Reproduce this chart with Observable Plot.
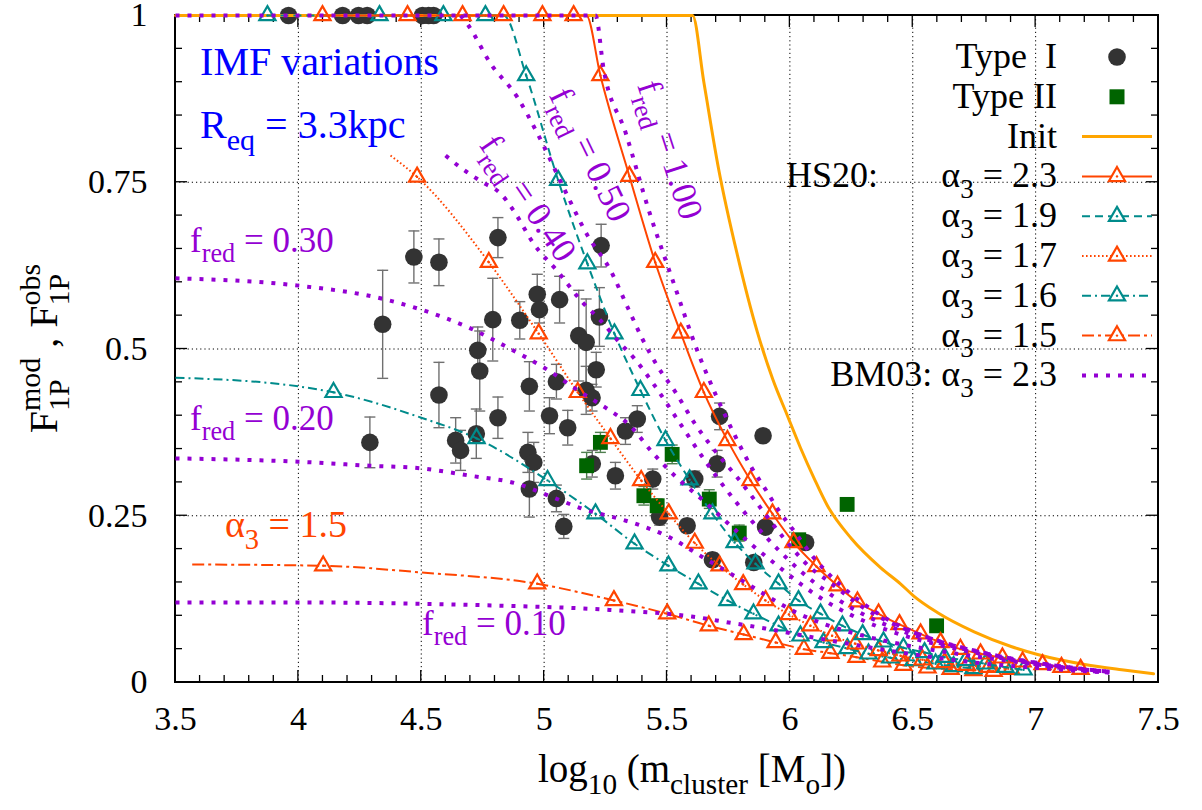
<!DOCTYPE html>
<html><head><meta charset="utf-8">
<script src="https://cdn.jsdelivr.net/npm/d3@7"></script>
<script src="https://cdn.jsdelivr.net/npm/@observablehq/plot@0.6"></script>
<style>
html,body{margin:0;padding:0;background:#fff;}
#chart svg text{white-space:pre;}
</style></head><body><div id="chart"></div>
<script>
// ---------------- data ----------------
const xTicks = [3.5, 4, 4.5, 5, 5.5, 6, 6.5, 7, 7.5];
const yTicks = [0, 0.25, 0.5, 0.75, 1];

// Type I clusters: [log10 m, F1P, error]
const typeI = [
 [3.96,1,0],[4.18,1,0],[4.245,1,0],[4.28,1,0],[4.505,1,0],[4.53,1,0],[4.55,1,0],
 [4.470,0.638,0.039],[4.572,0.630,0.035],[4.812,0.667,0.030],[5.232,0.655,0.032],
 [4.343,0.537,0.081],[4.791,0.544,0.062],[4.901,0.543,0.028],[4.972,0.582,0.030],
 [4.981,0.559,0.020],[5.063,0.574,0.035],[5.225,0.548,0.044],[5.141,0.520,0.068],
 [5.171,0.510,0.065],[4.730,0.498,0.035],[4.738,0.467,0.060],[4.572,0.431,0.049],
 [4.940,0.444,0.037],[5.050,0.451,0.026],[5.212,0.469,0.026],[5.171,0.438,0.036],
 [5.195,0.427,0.020],[4.812,0.397,0.031],[5.022,0.400,0.027],[5.096,0.382,0.026],
 [4.724,0.373,0.037],[4.640,0.363,0.034],[4.660,0.348,0.030],[5.379,0.395,0.020],
 [5.331,0.377,0.020],[4.291,0.360,0.038],[4.934,0.345,0.030],[4.958,0.330,0.030],
 [4.940,0.290,0.042],[5.050,0.276,0.020],[5.080,0.234,0.018],[5.196,0.328,0.020],
 [5.290,0.310,0.020],[5.442,0.305,0.015],[5.470,0.248,0.012],[5.582,0.235,0.010],
 [5.613,0.305,0.012],[5.685,0.184,0.010],[5.704,0.328,0.020],[5.714,0.399,0.020],
 [5.891,0.370,0],[5.901,0.233,0],[5.853,0.180,0],[6.064,0.210,0]
];
// Type II clusters: [log10 m, F1P, error]
const typeII = [
 [5.229,0.360,0.015],[5.173,0.325,0.020],[5.406,0.280,0.014],[5.460,0.265,0.010],
 [5.521,0.342,0.014],[5.672,0.275,0.014],[5.794,0.224,0.012],[6.036,0.214,0],
 [6.233,0.267,0],[6.597,0.085,0]
];
// Init
const init = [
 [3.5,1],[5.604,1],[5.65,0.90],[5.71,0.77],[5.787,0.64],[5.868,0.525],[5.93,0.455],
 [5.99,0.400],[6.043,0.352],[6.10,0.305],[6.153,0.265],[6.25,0.216],[6.37,0.172],[6.45,0.148],
 [6.503,0.130],[6.6,0.105],[6.75,0.076],[6.9,0.054],[7.008,0.042],[7.2,0.027],[7.35,0.019],[7.48,0.013]
];
// HS20 alpha3 = 2.3 (marker points) + joins without markers
const hs23 = [
 [4.098,1],[4.444,1],[4.668,1],[4.835,1],[4.993,1],[5.120,1],
 [5.229,0.910],[5.347,0.759],[5.452,0.630],[5.556,0.524],[5.650,0.435],[5.746,0.363],
 [5.840,0.303],[5.929,0.253],[6.015,0.210],[6.108,0.174],[6.194,0.145],[6.275,0.121],
 [6.361,0.103],[6.446,0.087],[6.532,0.073],[6.613,0.060],[6.694,0.050],[6.776,0.043],
 [6.865,0.037],[6.947,0.031],[7.028,0.027],[7.105,0.023],[7.183,0.020]
];
const hs23Join = [[5.172,1]];
// alpha3 = 1.9
const hs19 = [
 [3.874,1],[4.330,1],[4.590,1],[4.761,1],
 [4.927,0.910],[5.057,0.753],[5.176,0.628],[5.286,0.523],[5.392,0.438],[5.494,0.363],
 [5.592,0.304],[5.685,0.253],[5.775,0.210],[5.860,0.178],[5.954,0.148],[6.035,0.123],
 [6.125,0.103],[6.214,0.085],[6.296,0.072],[6.381,0.061],[6.462,0.052],[6.548,0.045],
 [6.629,0.038],[6.715,0.033],[6.796,0.028],[6.877,0.023],[6.951,0.019]
];
const hs19Join = [[4.835,1]];
// alpha3 = 1.7
const hs17 = [
 [4.483,0.758],[4.775,0.630],[4.978,0.523],[5.137,0.435],[5.270,0.366],[5.395,0.303],
 [5.507,0.253],[5.613,0.209],[5.714,0.175],[5.810,0.147],[5.901,0.123],[5.996,0.102],
 [6.084,0.085],[6.172,0.070],[6.267,0.058],[6.361,0.048],[6.45,0.040],[6.54,0.034],
 [6.63,0.030],[6.72,0.026],[6.81,0.023],[6.90,0.020]
];
const hs17Join = [[4.375,0.790]];
// alpha3 = 1.6
const hs16 = [
 [4.143,0.435],[4.725,0.366],[5.014,0.303],[5.209,0.253],[5.368,0.208],[5.506,0.175],
 [5.628,0.148],[5.746,0.123],[5.852,0.103],[5.954,0.085],[6.043,0.070],[6.137,0.060],
 [6.234,0.051],[6.320,0.043],[6.409,0.037],[6.503,0.033],[6.593,0.028],[6.666,0.024],[6.747,0.021]
];
const hs16Join = [[3.5,0.457],[4.0,0.444],[4.5,0.397]];
// alpha3 = 1.5
const hs15 = [
 [4.101,0.175],[4.972,0.148],[5.284,0.123],[5.501,0.103],[5.670,0.085],[5.812,0.072],
 [5.942,0.060],[6.057,0.050],[6.165,0.044],[6.271,0.038],[6.376,0.031],[6.462,0.026],
 [6.560,0.022],[6.654,0.020],[6.747,0.018],[6.829,0.017]
];
const hs15Join = [[3.568,0.177],[4.5,0.165]];
// BM03 alpha3 = 2.3, f_red curves
const bm10 = [[3.5,0.120],[4.0,0.120],[4.5,0.118],[4.84,0.115],[5.16,0.111],[5.3,0.108],[5.5,0.103],[5.6,0.099],[5.75,0.090],[5.9,0.081],[6.03,0.072],[6.24,0.058],[6.45,0.045],[6.6,0.037],[6.8,0.028],[7.0,0.022],[7.15,0.018],[7.3,0.015]];
const bm20 = [[3.5,0.336],[4.0,0.331],[4.29,0.325],[4.5,0.321],[4.70,0.310],[4.89,0.298],[5.026,0.279],[5.16,0.260],[5.30,0.246],[5.38,0.237],[5.514,0.217],[5.649,0.187],[5.787,0.157],[5.893,0.133],[6.031,0.104],[6.137,0.088],[6.3,0.070],[6.5,0.054],[6.7,0.042],[6.9,0.032],[7.1,0.023],[7.3,0.016]];
const bm30 = [[3.5,0.606],[4.0,0.595],[4.334,0.576],[4.5,0.559],[4.70,0.531],[4.863,0.500],[5.0,0.472],[5.15,0.435],[5.25,0.412],[5.35,0.385],[5.44,0.345],[5.54,0.307],[5.65,0.272],[5.75,0.238],[5.85,0.205],[5.95,0.175],[6.05,0.146],[6.15,0.121],[6.25,0.101],[6.35,0.085],[6.45,0.072],[6.6,0.057],[6.75,0.045],[6.9,0.034],[7.05,0.026],[7.2,0.019],[7.3,0.016]];
const bm40 = [[4.599,0.790],[4.660,0.772],[4.749,0.750],[4.823,0.733],[4.875,0.708],[4.957,0.658],[5.058,0.615],[5.156,0.570],[5.229,0.543],[5.311,0.508],[5.364,0.487],[5.45,0.445],[5.55,0.390],[5.65,0.335],[5.75,0.285],[5.85,0.240],[5.95,0.200],[6.05,0.165],[6.15,0.136],[6.25,0.112],[6.35,0.093],[6.45,0.078],[6.6,0.060],[6.75,0.047],[6.9,0.036],[7.05,0.027],[7.2,0.020],[7.3,0.016]];
const bm50 = [[4.66,1.0],[4.692,0.985],[4.782,0.928],[4.892,0.877],[4.973,0.823],[5.079,0.742],[5.177,0.670],[5.270,0.618],[5.343,0.560],[5.40,0.515],[5.46,0.475],[5.535,0.435],[5.61,0.390],[5.70,0.345],[5.787,0.307],[5.868,0.268],[5.974,0.217],[6.084,0.172],[6.153,0.153],[6.3,0.112],[6.45,0.083],[6.6,0.063],[6.75,0.048],[6.9,0.036],[7.05,0.027],[7.2,0.020],[7.3,0.016]];
const bm100 = [[3.5,1],[5.209,1],[5.242,0.920],[5.331,0.825],[5.425,0.709],[5.526,0.600],[5.628,0.493],[5.70,0.430],[5.77,0.375],[5.84,0.325],[5.90,0.290],[5.96,0.255],[6.015,0.228],[6.10,0.186],[6.2,0.148],[6.3,0.118],[6.4,0.094],[6.52,0.073],[6.65,0.057],[6.79,0.044],[6.93,0.032],[7.06,0.024],[7.2,0.018],[7.3,0.015]];

// text annotations (anchor in data coordinates)
const notes = [
 {segs:[{t:"IMF variations"}], x:3.602, y:0.910, color:"#0000ff", fs:40, rot:0},
 {segs:[{t:"R"},{t:"eq",sub:1},{t:" = 3.3kpc"}], x:3.602, y:0.816, color:"#0000ff", fs:40, rot:0},
 {segs:[{t:"f"},{t:"red",sub:1},{t:" = 0.30"}], x:3.561, y:0.645, color:"#9400d3", fs:35, rot:0},
 {segs:[{t:"f"},{t:"red",sub:1},{t:" = 0.20"}], x:3.561, y:0.378, color:"#9400d3", fs:35, rot:0},
 {segs:[{t:"\u03b1"},{t:"3",sub:1},{t:" = 1.5"}], x:3.703, y:0.217, color:"#ff4500", fs:38, rot:0},
 {segs:[{t:"f"},{t:"red",sub:1},{t:" = 0.10"}], x:4.505, y:0.0705, color:"#9400d3", fs:35, rot:0},
 {segs:[{t:"f"},{t:"red",sub:1},{t:" = 0.40"}], x:4.735, y:0.805, color:"#9400d3", fs:35, rot:56},
 {segs:[{t:"f"},{t:"red",sub:1},{t:" = 0.50"}], x:5.020, y:0.880, color:"#9400d3", fs:35, rot:64},
 {segs:[{t:"f"},{t:"red",sub:1},{t:" = 1.00"}], x:5.380, y:0.895, color:"#9400d3", fs:35, rot:72}
];

// ---------------- styling ----------------
const FONT = "'Liberation Serif','Times New Roman',serif";
const C = {orange:"#ffa500", red:"#ff4500", teal:"#008b8b", violet:"#9400d3", dot:"#333333", green:"#006400", err:"#707070", errG:"#4f7f4f"};
const P = d => d[0], Q = d => d[1];
const lineOf = (pts, extra) => [...pts, ...extra].sort((a, b) => a[0] - b[0]);
const cap = {draw(ctx, size) { const w = Math.sqrt(size / Math.PI); ctx.moveTo(-w, 0); ctx.lineTo(w, 0); }};
const TRI_R = 6;
const DASH = {a19: "8,5", a17: "1.6,2.4", a16: "9,4,2,4", a15: "12,4,3,4", bm: "4,8"};

function hsMarks(pts, extra, color, dash) {
  return [
    Plot.line(lineOf(pts, extra), {x: P, y: Q, stroke: color, strokeWidth: 2, strokeDasharray: dash, strokeLinecap: "butt", curve: "monotone-x"}),
    Plot.dot(pts, {x: P, y: Q, symbol: "triangle", r: TRI_R, stroke: color, strokeWidth: 2.2, fill: "none"}),
    Plot.dot(pts, {x: P, y: Q, r: 1.2, fill: color})
  ];
}
function bmLine(pts) {
  return Plot.line(pts, {x: P, y: Q, stroke: C.violet, strokeWidth: 4, strokeDasharray: DASH.bm, strokeLinecap: "butt", curve: "monotone-x"});
}
function errMarks(data, color) {
  const has = d => d[2] > 0;
  return [
    Plot.ruleX(data, {filter: has, x: P, y1: d => d[1] - d[2], y2: d => d[1] + d[2], stroke: color, strokeWidth: 1.4}),
    Plot.dot(data, {filter: has, x: P, y: d => d[1] - d[2], symbol: cap, r: 5.5, stroke: color, strokeWidth: 1.4, fill: "none"}),
    Plot.dot(data, {filter: has, x: P, y: d => d[1] + d[2], symbol: cap, r: 5.5, stroke: color, strokeWidth: 1.4, fill: "none"})
  ];
}

const chart = Plot.plot({
  width: 1202, height: 810,
  marginLeft: 175, marginRight: 44, marginTop: 15, marginBottom: 128,
  style: {fontFamily: FONT, fontSize: "34px", background: "#fff", color: "#000"},
  x: {domain: [3.5, 7.5]},
  y: {domain: [0, 1]},
  marks: [
    Plot.ruleX(xTicks.slice(1, -1), {stroke: "#000", strokeWidth: 1, strokeDasharray: "1.2,3", ariaLabel: "grid-x"}),
    Plot.ruleY(yTicks.slice(1, -1), {stroke: "#000", strokeWidth: 1, strokeDasharray: "1.2,3", ariaLabel: "grid-y"}),
    Plot.axisX(xTicks, {tickSize: 0, tickPadding: 23, fontSize: 34, tickFormat: d => String(d), label: null}),
    Plot.axisY(yTicks, {tickSize: 0, tickPadding: 28, fontSize: 34, tickFormat: d => String(d), label: null}),
    ...errMarks(typeI, C.err),
    Plot.dot(typeI, {x: P, y: Q, r: 8.8, fill: C.dot}),
    ...errMarks(typeII, C.errG),
    Plot.dot(typeII, {x: P, y: Q, symbol: "square", r: 8.4, fill: C.green}),
    Plot.line(init, {x: P, y: Q, stroke: C.orange, strokeWidth: 3, curve: "monotone-x"}),
    ...hsMarks(hs15, hs15Join, C.red, DASH.a15),
    ...hsMarks(hs16, hs16Join, C.teal, DASH.a16),
    ...hsMarks(hs17, hs17Join, C.red, DASH.a17),
    ...hsMarks(hs19, hs19Join, C.teal, DASH.a19),
    ...hsMarks(hs23, hs23Join, C.red, null),
    bmLine(bm10), bmLine(bm20), bmLine(bm30), bmLine(bm40), bmLine(bm50), bmLine(bm100)
  ]
});
document.getElementById("chart").append(chart);

// ---------------- decorations ----------------
const NS = "http://www.w3.org/2000/svg";
const sx = chart.scale("x"), sy = chart.scale("y");
const X = v => sx.apply(v), Y = v => sy.apply(v);
const L = X(3.5), R = X(7.5), T = Y(1), B = Y(0);
const svgSel = d3.select(chart);

// legend background (hides grid) + frame + ticks, inserted below the data marks
const gridY = chart.querySelector('g[aria-label="grid-y"]');
const under = document.createElementNS(NS, "g");
chart.insertBefore(under, gridY ? gridY.nextSibling : chart.firstChild);
const u = d3.select(under);
u.append("rect").attr("x", R - 510).attr("y", T + 21).attr("width", 509).attr("height", 359).attr("fill", "#fff");
u.append("rect").attr("x", L).attr("y", T).attr("width", R - L).attr("height", B - T)
  .attr("fill", "none").attr("stroke", "#000").attr("stroke-width", 2);
const tk = u.append("g").attr("stroke", "#000").attr("stroke-width", 1.3);
for (let i = 0; i <= 40; i++) {
  const v = X(3.5 + i * 0.1), len = i % 5 === 0 ? 12 : 7;
  tk.append("line").attr("x1", v).attr("x2", v).attr("y1", B).attr("y2", B - len);
  tk.append("line").attr("x1", v).attr("x2", v).attr("y1", T).attr("y2", T + len);
}
for (let i = 0; i <= 20; i++) {
  const v = Y(i * 0.05), len = i % 5 === 0 ? 12 : 7;
  tk.append("line").attr("y1", v).attr("y2", v).attr("x1", L).attr("x2", L + len);
  tk.append("line").attr("y1", v).attr("y2", v).attr("x1", R).attr("x2", R - len);
}

function rich(sel, segs, fs, color, anchor) {
  const t = sel.append("text").attr("font-size", fs).attr("fill", color)
    .attr("font-family", FONT).attr("text-anchor", anchor || "start").attr("xml:space", "preserve");
  let cur = 0, lastW = 0;
  for (const s of segs) {
    const off = s.sub ? 0.3 * fs : s.sup ? -0.42 * fs : 0;
    const ts = t.append("tspan").text(s.t).attr("dy", off - cur);
    if (s.sub || s.sup) ts.attr("font-size", 0.75 * fs);
    if (s.stack) ts.attr("dx", -lastW);
    cur = off;
    lastW = ts.node().getComputedTextLength();
  }
  return t;
}

const overlay = svgSel.append("g");
for (const n of notes) {
  rich(overlay, n.segs, n.fs, n.color, "start")
    .attr("transform", `translate(${X(n.x)},${Y(n.y)}) rotate(${n.rot})`);
}

// axis titles
rich(overlay, [{t:"log"},{t:"10",sub:1},{t:" (m"},{t:"cluster",sub:1},{t:" [M"},{t:"o",sub:1},{t:"])"}], 39, "#000", "middle")
  .attr("transform", `translate(${L + 517},${B + 100})`);
rich(overlay, [{t:"F"},{t:"1P",sub:1},{t:"mod",sup:1,stack:1},{t:" , F"},{t:"1P",sub:1},{t:"obs",sup:1,stack:1}], 40, "#000", "middle")
  .attr("transform", `translate(${L - 118},${(T + B) / 2}) rotate(-90)`);

// legend
const LX = R - 101, S1 = R - 76, S2 = R - 6, MX = R - 41;
const rowY = i => T + 42 + i * 39.8;
const legend = [
  {segs:[{t:"Type\u00a0 I"}], kind:"circle"},
  {segs:[{t:"Type II"}], kind:"square"},
  {segs:[{t:"Init"}], kind:"line", color:C.orange, w:3},
  {segs:[{t:"\u03b1"},{t:"3",sub:1},{t:" = 2.3"}], kind:"hs", color:C.red},
  {segs:[{t:"\u03b1"},{t:"3",sub:1},{t:" = 1.9"}], kind:"hs", color:C.teal, dash:DASH.a19},
  {segs:[{t:"\u03b1"},{t:"3",sub:1},{t:" = 1.7"}], kind:"hs", color:C.red, dash:DASH.a17},
  {segs:[{t:"\u03b1"},{t:"3",sub:1},{t:" = 1.6"}], kind:"hs", color:C.teal, dash:DASH.a16},
  {segs:[{t:"\u03b1"},{t:"3",sub:1},{t:" = 1.5"}], kind:"hs", color:C.red, dash:DASH.a15},
  {segs:[{t:"BM03: \u03b1"},{t:"3",sub:1},{t:" = 2.3"}], kind:"line", color:C.violet, w:4, dash:DASH.bm}
];
const lg = overlay.append("g");
legend.forEach((it, i) => {
  const y = rowY(i);
  rich(lg, it.segs, 36, "#000", "end").attr("transform", `translate(${LX},${y + 11})`);
  if (it.kind === "circle") lg.append("circle").attr("cx", MX).attr("cy", y).attr("r", 8.8).attr("fill", C.dot);
  if (it.kind === "square") lg.append("rect").attr("x", MX - 7.5).attr("y", y - 7.5).attr("width", 15).attr("height", 15).attr("fill", C.green);
  if (it.kind === "line" || it.kind === "hs") {
    lg.append("line").attr("x1", S1).attr("x2", S2).attr("y1", y).attr("y2", y)
      .attr("stroke", it.color).attr("stroke-width", it.w || 2).attr("stroke-dasharray", it.dash || null);
  }
  if (it.kind === "hs") {
    lg.append("path").attr("d", d3.symbol(d3.symbolTriangle, Math.PI * TRI_R * TRI_R)())
      .attr("transform", `translate(${MX},${y})`).attr("fill", "#fff").attr("stroke", it.color).attr("stroke-width", 2.2);
    lg.append("circle").attr("cx", MX).attr("cy", y).attr("r", 1.2).attr("fill", it.color);
  }
});
rich(lg, [{t:"HS20:"}], 36, "#000", "end").attr("transform", `translate(${R - 280},${rowY(3) + 11})`);
</script></body></html>
